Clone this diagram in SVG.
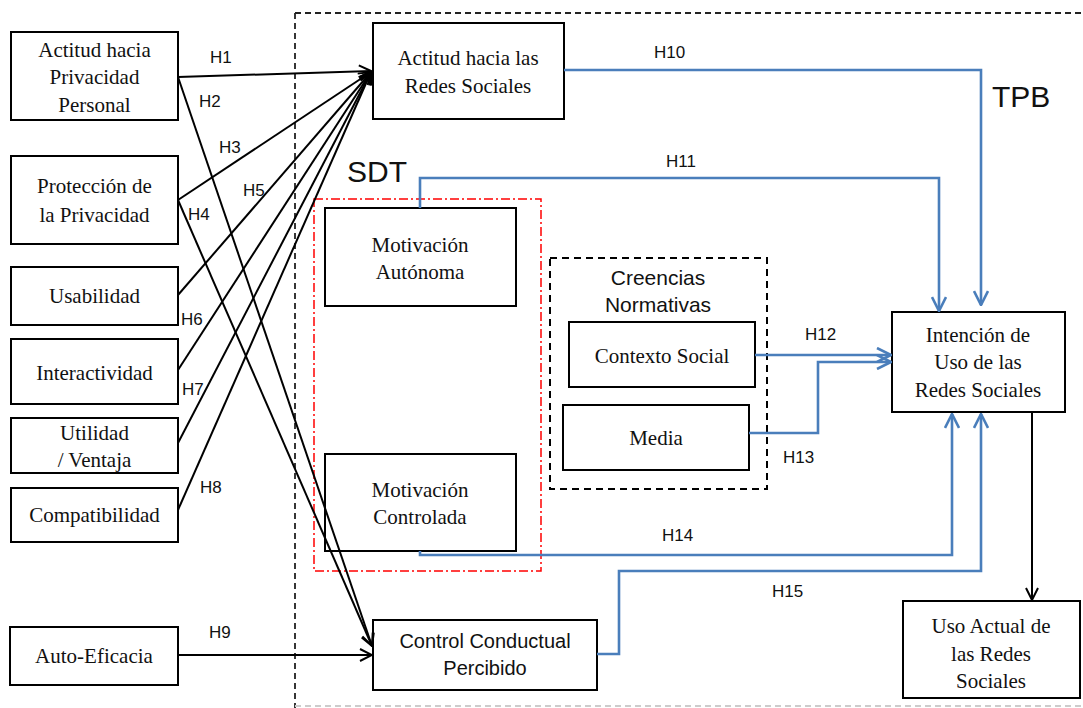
<svg xmlns="http://www.w3.org/2000/svg" width="1083" height="708" viewBox="0 0 1083 708">
<style>
.box{fill:#fff;stroke:#000;stroke-width:2}
.sf{font-family:"Liberation Serif","Times New Roman",serif;font-size:21px;fill:#111;text-anchor:middle}
.ss{font-family:"Liberation Sans",Arial,sans-serif;fill:#111}
.h{font-family:"Liberation Sans",Arial,sans-serif;font-size:17px;fill:#111}
.bl{fill:none;stroke:#000;stroke-width:2}
.bu{fill:none;stroke:#4a7ebb;stroke-width:2.6}
</style>
<defs>
<marker id="ak" viewBox="0 0 14 14" refX="13" refY="7" markerWidth="14" markerHeight="14" markerUnits="userSpaceOnUse" orient="auto"><path d="M1,1 L13,7 L1,13" fill="none" stroke="#000" stroke-width="2"/></marker>
<marker id="ab" viewBox="0 0 16 16" refX="15" refY="8" markerWidth="16" markerHeight="16" markerUnits="userSpaceOnUse" orient="auto"><path d="M1,1 L15,8 L1,15" fill="none" stroke="#4a7ebb" stroke-width="2.6"/></marker>
</defs>
<rect width="1083" height="708" fill="#fff"/>
<g id="frames">
<path d="M295,13 H1083" fill="none" stroke="#222" stroke-width="1.8" stroke-dasharray="6,4"/>
<path d="M295,13 V708" fill="none" stroke="#222" stroke-width="1.8" stroke-dasharray="6,4"/>
<path d="M295,706 H1083" fill="none" stroke="#ccc" stroke-width="1.8" stroke-dasharray="6,4"/>
<rect x="314" y="199" width="227" height="372" fill="none" stroke="#f00" stroke-width="1.5" stroke-dasharray="9,3,2,3"/>
<text class="ss" x="347" y="182" font-size="30">SDT</text>
<text class="ss" x="992" y="107" font-size="30">TPB</text>
</g>
<g id="creencias">
<rect x="550" y="258" width="217" height="231" fill="none" stroke="#000" stroke-width="2" stroke-dasharray="7,5"/>
<text class="ss" x="658" y="285" font-size="21" text-anchor="middle">Creencias</text>
<text class="ss" x="658" y="312" font-size="21" text-anchor="middle">Normativas</text>
</g>
<g id="n_actitud_priv"><rect class="box" x="11" y="32" width="167" height="88"/>
<text class="sf" x="94.5" y="57">Actitud hacia</text><text class="sf" x="94.5" y="84">Privacidad</text><text class="sf" x="94.5" y="112">Personal</text></g>
<g id="n_proteccion"><rect class="box" x="11" y="156" width="167" height="88"/>
<text class="sf" x="94.5" y="193">Protección de</text><text class="sf" x="94.5" y="222">la Privacidad</text></g>
<g id="n_usabilidad"><rect class="box" x="11" y="267" width="167" height="58"/>
<text class="sf" x="94.5" y="303">Usabilidad</text></g>
<g id="n_interactividad"><rect class="box" x="11" y="339" width="167" height="65"/>
<text class="sf" x="94.5" y="380">Interactividad</text></g>
<g id="n_utilidad"><rect class="box" x="11" y="418" width="167" height="55"/>
<text class="sf" x="94.5" y="440">Utilidad</text><text class="sf" x="94.5" y="467">/ Ventaja</text></g>
<g id="n_compat"><rect class="box" x="11" y="488" width="167" height="54"/>
<text class="sf" x="94.5" y="522">Compatibilidad</text></g>
<g id="n_autoeficacia"><rect class="box" x="10" y="627" width="168" height="58"/>
<text class="sf" x="94" y="663">Auto-Eficacia</text></g>
<g id="n_actitud_redes"><rect class="box" x="373" y="23" width="191" height="96"/>
<text class="sf" x="468" y="65">Actitud hacia las</text><text class="sf" x="468" y="93">Redes Sociales</text></g>
<g id="n_mot_aut"><rect class="box" x="325" y="208" width="191" height="98"/>
<text class="sf" x="420" y="252">Motivación</text><text class="sf" x="420" y="279">Autónoma</text></g>
<g id="n_mot_con"><rect class="box" x="325" y="454" width="191" height="97"/>
<text class="sf" x="420" y="497">Motivación</text><text class="sf" x="420" y="524">Controlada</text></g>
<g id="n_contexto"><rect class="box" x="569" y="322" width="186" height="65"/>
<text class="sf" x="662" y="363">Contexto Social</text></g>
<g id="n_media"><rect class="box" x="563" y="405" width="186" height="65"/>
<text class="sf" x="656" y="445">Media</text></g>
<g id="n_control"><rect class="box" x="373" y="620" width="224" height="70"/>
<text class="ss" x="485" y="648" font-size="20" text-anchor="middle">Control Conductual</text><text class="ss" x="485" y="675" font-size="20" text-anchor="middle">Percibido</text></g>
<g id="n_intencion"><rect class="box" x="892" y="312" width="173" height="100"/>
<text class="sf" x="978" y="342">Intención de</text><text class="sf" x="978" y="369">Uso de las</text><text class="sf" x="978" y="397">Redes Sociales</text></g>
<g id="n_uso"><rect class="box" x="903" y="601" width="177" height="97"/>
<text class="sf" x="991" y="633">Uso Actual de</text><text class="sf" x="991" y="661">las Redes</text><text class="sf" x="991" y="688">Sociales</text></g>
<g id="connectors">
<path class="bl" d="M178,77 L371,71" marker-end="url(#ak)"/>
<path class="bl" d="M178,200 L371,72" marker-end="url(#ak)"/>
<path class="bl" d="M178,295 L371,72" marker-end="url(#ak)"/>
<path class="bl" d="M178,370 L371,72" marker-end="url(#ak)"/>
<path class="bl" d="M178,443 L371,72" marker-end="url(#ak)"/>
<path class="bl" d="M178,510 L371,72" marker-end="url(#ak)"/>
<path class="bl" d="M178,77 L372,646" marker-end="url(#ak)"/>
<path class="bl" d="M178,200 L372,646" marker-end="url(#ak)"/>
<path class="bl" d="M178,655 L372,655" marker-end="url(#ak)"/>
<path class="bu" d="M564,70 H981 V305" marker-end="url(#ab)"/>
<path class="bu" d="M420,208 V178 H939 V311" marker-end="url(#ab)"/>
<path class="bu" d="M755,355 H891" marker-end="url(#ab)"/>
<path class="bu" d="M749,433 H818 V362 H891" marker-end="url(#ab)"/>
<path class="bu" d="M420,551 V555 H952 V414" marker-end="url(#ab)"/>
<path class="bu" d="M597,654 H619 V571 H981 V414" marker-end="url(#ab)"/>
<path class="bl" d="M1032,412 V600" marker-end="url(#ak)"/>
<text class="h" x="210" y="63">H1</text>
<text class="h" x="199" y="107">H2</text>
<text class="h" x="219" y="153">H3</text>
<text class="h" x="188" y="220">H4</text>
<text class="h" x="243" y="196">H5</text>
<text class="h" x="181" y="325">H6</text>
<text class="h" x="182" y="395">H7</text>
<text class="h" x="200" y="493">H8</text>
<text class="h" x="209" y="638">H9</text>
<text class="h" x="654" y="58">H10</text>
<text class="h" x="666" y="167">H11</text>
<text class="h" x="805" y="340">H12</text>
<text class="h" x="783" y="463">H13</text>
<text class="h" x="662" y="541">H14</text>
<text class="h" x="772" y="597">H15</text>
</g>
</svg>
